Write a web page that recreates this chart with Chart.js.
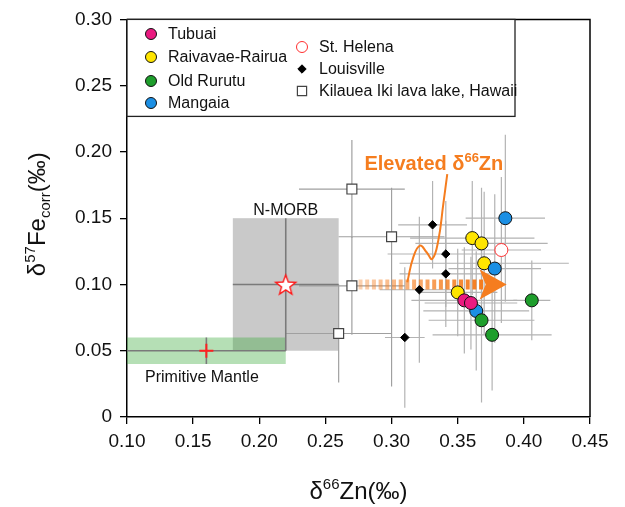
<!DOCTYPE html>
<html>
<head>
<meta charset="utf-8">
<script src="https://cdn.jsdelivr.net/npm/chart.js@4.4.1/dist/chart.umd.min.js"></script>
<style>
  body { margin: 0; background: #fff; }
  #wrap { width: 625px; height: 507px; position: relative; }
</style>
</head>
<body>
<div id="wrap"><canvas id="chart"></canvas></div>
<script>
// ---- data ----
const tubuaiX = [0.355, 0.360];
const tubuaiY = [0.088, 0.086];
const tubuaiXErr = [0.04, 0.035];
const tubuaiYErr = [0.04, 0.035];

const raivavaeX = [0.361, 0.368, 0.370, 0.350];
const raivavaeY = [0.135, 0.131, 0.116, 0.094];
const raivavaeXErr = [0.047, 0.05, 0.064, 0.03];
const raivavaeYErr = [0.043, 0.042, 0.054, 0.033];

const rurutuX = [0.406, 0.368, 0.376];
const rurutuY = [0.088, 0.073, 0.062];
const rurutuXErr = [0.014, 0.04, 0.045];
const rurutuYErr = [0.03, 0.062, 0.042];

const mangaiaX = [0.386, 0.378, 0.364];
const mangaiaY = [0.150, 0.112, 0.080];
const mangaiaXErr = [0.03, 0.035, 0.04];
const mangaiaYErr = [0.063, 0.056, 0.045];

const helenaX = [0.383];
const helenaY = [0.126];
const helenaXErr = [0.03];
const helenaYErr = [0.055];

const louisvilleX = [0.331, 0.341, 0.341, 0.321, 0.310];
const louisvilleY = [0.145, 0.123, 0.108, 0.096, 0.060];
const louisvilleXErr = [0.026, 0.044, 0.035, 0.03, 0.015];
const louisvilleYErr = [0.033, 0.04, 0.04, 0.055, 0.053];

const kilaueaX = [0.270, 0.300, 0.270, 0.260];
const kilaueaY = [0.172, 0.136, 0.099, 0.063];
const kilaueaXErr = [0.04, 0.04, 0.04, 0.04];
const kilaueaYErr = [0.037, [0.113, 0.037], 0.037, 0.037];   // [down, up] where asymmetric

// reference reservoirs
const morbX = [0.22], morbY = [0.10], morbXErr = [0.04], morbYErr = [0.05];
const morbBox = [0.18, 0.26, 0.05, 0.15];      // xmin, xmax, ymin, ymax
const pmX = [0.16], pmY = [0.05], pmXErr = [0.06], pmYErr = [0.01];
const pmBox = [0.10, 0.22, 0.04, 0.06];

// "Elevated d66Zn" arrow and curve
const arrowFrom = [0.275, 0.10];
const arrowTo = [0.387, 0.10];
const curveX = [0.3119, 0.3164, 0.3215, 0.3265, 0.3308, 0.3353, 0.3391, 0.3421];
const curveY = [0.1017, 0.1205, 0.1293, 0.1243, 0.1193, 0.1331, 0.1607, 0.1832];

const xTicks = [0.10, 0.15, 0.20, 0.25, 0.30, 0.35, 0.40, 0.45];
const yTicks = [0, 0.05, 0.10, 0.15, 0.20, 0.25, 0.30];

const FONT = '"Liberation Sans", Arial, Helvetica, sans-serif';
const ORANGE = '#f57d1f';

const pts = (xs, ys) => xs.map((x, i) => ({ x: x, y: ys[i] }));

function makeStar(r) {
  const s = Math.ceil(r * 2 + 4);
  const c = document.createElement('canvas');
  c.width = s; c.height = s;
  const g = c.getContext('2d');
  g.translate(s / 2, s / 2 + r * 0.1);
  g.beginPath();
  for (let i = 0; i < 10; i++) {
    const rr = i % 2 ? r * 0.42 : r;
    const a = -Math.PI / 2 + i * Math.PI / 5;
    g.lineTo(rr * Math.cos(a), rr * Math.sin(a));
  }
  g.closePath();
  g.fillStyle = '#fff';
  g.fill();
  g.strokeStyle = '#ff1a1a';
  g.lineWidth = 1.4;
  g.stroke();
  return c;
}

function circle(bg, border) {
  return { pointStyle: 'circle', pointRadius: 6.5, backgroundColor: bg, borderColor: border || '#111', borderWidth: 1 };
}

// legend marker
function drawMarker(ctx, style, r, x, y) {
  ctx.beginPath();
  if (style === 'circle') {
    ctx.arc(x, y, r, 0, Math.PI * 2);
  } else if (style === 'rect') {
    const s = Math.SQRT1_2 * r;
    ctx.rect(x - s, y - s, 2 * s, 2 * s);
  } else {
    ctx.moveTo(x, y - r); ctx.lineTo(x + r, y); ctx.lineTo(x, y + r); ctx.lineTo(x - r, y);
    ctx.closePath();
  }
  ctx.fill();
  ctx.stroke();
}

// rich text (super/subscripts)
function richWidth(ctx, parts) {
  let w = 0;
  parts.forEach(p => { ctx.font = p.font; w += ctx.measureText(p.t).width; });
  return w;
}
function richDraw(ctx, parts, x, y) {
  parts.forEach(p => {
    ctx.font = p.font;
    ctx.fillText(p.t, x, y + (p.dy || 0));
    x += ctx.measureText(p.t).width;
  });
}

const backdrop = {
  id: 'backdrop',
  beforeDatasetsDraw(chart) {
    const { ctx, chartArea: a } = chart;
    const sx = chart.scales.x, sy = chart.scales.y;
    const X = v => sx.getPixelForValue(v), Y = v => sy.getPixelForValue(v);
    ctx.save();
    ctx.beginPath();
    ctx.rect(a.left, a.top, a.right - a.left, a.bottom - a.top);
    ctx.clip();

    // N-MORB and primitive mantle fields
    ctx.fillStyle = '#c9c9c9';
    ctx.fillRect(X(morbBox[0]), Y(morbBox[3]), X(morbBox[1]) - X(morbBox[0]), Y(morbBox[2]) - Y(morbBox[3]));
    ctx.fillStyle = 'rgba(60,170,60,0.38)';
    ctx.fillRect(X(pmBox[0]), Y(pmBox[3]), X(pmBox[1]) - X(pmBox[0]), Y(pmBox[2]) - Y(pmBox[3]));

    // error bars
    chart.data.datasets.forEach(ds => {
      if (!ds.xErr) return;
      ctx.strokeStyle = ds.errColor || '#b3b3b3';
      ctx.lineWidth = ds.errWidth || 1.2;
      ds.data.forEach((p, i) => {
        const ex = ds.xErr[i];
        const ey = ds.yErr[i];
        const down = Array.isArray(ey) ? ey[0] : ey;
        const up = Array.isArray(ey) ? ey[1] : ey;
        ctx.beginPath();
        ctx.moveTo(X(p.x - ex), Y(p.y));
        ctx.lineTo(X(p.x + ex), Y(p.y));
        ctx.moveTo(X(p.x), Y(p.y - down));
        ctx.lineTo(X(p.x), Y(p.y + up));
        ctx.stroke();
      });
    });

    // dashed arrow
    const x0 = X(arrowFrom[0]), x1 = X(arrowTo[0]), ay = Y(arrowFrom[1]);
    const headLen = 27, headHalf = 15;
    const grad = ctx.createLinearGradient(x0, 0, x1 - headLen, 0);
    grad.addColorStop(0, 'rgba(245,125,31,0.35)');
    grad.addColorStop(1, 'rgba(245,125,31,1)');
    ctx.strokeStyle = grad;
    ctx.lineWidth = 10;
    ctx.setLineDash([4, 2.7]);
    ctx.beginPath();
    ctx.moveTo(x0, ay);
    ctx.lineTo(x1 - headLen + 4, ay);
    ctx.stroke();
    ctx.setLineDash([]);
    ctx.fillStyle = ORANGE;
    ctx.beginPath();
    ctx.moveTo(x1, ay);
    ctx.lineTo(x1 - headLen, ay - headHalf);
    ctx.lineTo(x1 - headLen + 6, ay);
    ctx.lineTo(x1 - headLen, ay + headHalf);
    ctx.closePath();
    ctx.fill();
    ctx.restore();

    // field labels
    ctx.save();
    ctx.fillStyle = '#111';
    ctx.font = '16px ' + FONT;
    ctx.textAlign = 'center';
    ctx.fillText('N-MORB', X((morbBox[0] + morbBox[1]) / 2), Y(morbBox[3]) - 3);
    ctx.textAlign = 'left';
    ctx.fillText('Primitive Mantle', X(pmBox[0]) + 18, Y(pmBox[2]) + 18);

    // annotation
    ctx.fillStyle = ORANGE;
    richDraw(ctx, [
      { t: 'Elevated \u03b4', font: 'bold 20px ' + FONT },
      { t: '66', font: 'bold 13px ' + FONT, dy: -8 },
      { t: 'Zn', font: 'bold 20px ' + FONT }
    ], X(0.2795), Y(0.1865));
    ctx.restore();
  },
  afterDraw(chart) {
    const { ctx, chartArea: a } = chart;
    ctx.save();
    // frame top and right
    ctx.strokeStyle = '#000';
    ctx.lineWidth = 1.5;
    ctx.beginPath();
    ctx.moveTo(a.left, a.top);
    ctx.lineTo(a.right, a.top);
    ctx.lineTo(a.right, a.bottom);
    ctx.stroke();

    // legend box
    ctx.fillStyle = '#fff';
    ctx.fillRect(a.left, a.top, 388, 97);
    ctx.strokeStyle = '#222';
    ctx.lineWidth = 1.3;
    ctx.strokeRect(a.left, a.top, 388, 97);

    const items = [
      { label: 'Tubuai', mx: 151, y: 34, ds: 1 },
      { label: 'Raivavae-Rairua', mx: 151, y: 57, ds: 3 },
      { label: 'Old Rurutu', mx: 151, y: 81, ds: 0 },
      { label: 'Mangaia', mx: 151, y: 103, ds: 2 },
      { label: 'St. Helena', mx: 302, y: 47, ds: 4 },
      { label: 'Louisville', mx: 302, y: 69, ds: 5 },
      { label: 'Kilauea Iki lava lake, Hawaii', mx: 302, y: 91, ds: 6 }
    ];
    ctx.font = '16px ' + FONT;
    ctx.textBaseline = 'middle';
    items.forEach(it => {
      const ds = chart.data.datasets[it.ds];
      const r = ds.pointStyle === 'circle' ? 5.5 : (ds.pointStyle === 'rect' ? 6.5 : 4.2);
      ctx.fillStyle = ds.backgroundColor;
      ctx.strokeStyle = ds.borderColor;
      ctx.lineWidth = ds.borderWidth;
      drawMarker(ctx, ds.pointStyle, r, it.mx, it.y);
      ctx.fillStyle = '#111';
      ctx.fillText(it.label, it.mx + 17, it.y + 1);
    });

    // axis titles
    ctx.fillStyle = '#111';
    ctx.textBaseline = 'alphabetic';
    const xt = [
      { t: '\u03b4', font: '24px ' + FONT },
      { t: '66', font: '15px ' + FONT, dy: -10 },
      { t: 'Zn(\u2030)', font: '24px ' + FONT }
    ];
    const cx = (a.left + a.right) / 2;
    richDraw(ctx, xt, cx - richWidth(ctx, xt) / 2, 499);

    const yt = [
      { t: '\u03b4', font: '24px ' + FONT },
      { t: '57', font: '15px ' + FONT, dy: -10 },
      { t: 'Fe', font: '24px ' + FONT },
      { t: 'corr', font: '15px ' + FONT, dy: 5 },
      { t: '(\u2030)', font: '24px ' + FONT }
    ];
    ctx.translate(45, (a.top + a.bottom) / 2 - 4);
    ctx.rotate(-Math.PI / 2);
    richDraw(ctx, yt, -richWidth(ctx, yt) / 2, 0);
    ctx.restore();
  }
};

const starImg = makeStar(10.5);

new Chart(document.getElementById('chart'), {
  type: 'scatter',
  data: {
    datasets: [
      Object.assign({ label: 'Old Rurutu', data: pts(rurutuX, rurutuY), xErr: rurutuXErr, yErr: rurutuYErr }, circle('#1e9e2c')),
      Object.assign({ label: 'Tubuai', data: pts(tubuaiX, tubuaiY), xErr: tubuaiXErr, yErr: tubuaiYErr }, circle('#ea1a80')),
      Object.assign({ label: 'Mangaia', data: pts(mangaiaX, mangaiaY), xErr: mangaiaXErr, yErr: mangaiaYErr }, circle('#1b8fe4')),
      Object.assign({ label: 'Raivavae-Rairua', data: pts(raivavaeX, raivavaeY), xErr: raivavaeXErr, yErr: raivavaeYErr }, circle('#ffe500')),
      Object.assign({ label: 'St. Helena', data: pts(helenaX, helenaY), xErr: helenaXErr, yErr: helenaYErr }, circle('#ffffff', '#ff3030')),
      { label: 'Louisville', data: pts(louisvilleX, louisvilleY), xErr: louisvilleXErr, yErr: louisvilleYErr,
        pointStyle: 'rectRot', pointRadius: 4.2, backgroundColor: '#000', borderColor: '#000', borderWidth: 1 },
      { label: 'Kilauea Iki lava lake, Hawaii', data: pts(kilaueaX, kilaueaY), xErr: kilaueaXErr, yErr: kilaueaYErr,
        errColor: '#a0a0a0', pointStyle: 'rect', pointRadius: 7, backgroundColor: '#fff', borderColor: '#444', borderWidth: 1.2 },
      { label: 'N-MORB', data: pts(morbX, morbY), xErr: morbXErr, yErr: morbYErr, errColor: '#7a7a7a', errWidth: 1.6,
        pointStyle: starImg, pointRadius: 10 },
      { label: 'Primitive Mantle', data: pts(pmX, pmY), xErr: pmXErr, yErr: pmYErr, errColor: '#7a7a7a', errWidth: 1.6,
        pointStyle: 'cross', pointRadius: 7, borderColor: '#ff2020', borderWidth: 2 },
      { label: 'curve', data: pts(curveX, curveY), showLine: true, tension: 0.45, pointRadius: 0,
        borderColor: ORANGE, borderWidth: 2, fill: false }
    ]
  },
  options: {
    responsive: true,
    maintainAspectRatio: false,
    animation: false,
    layout: { padding: { top: 18, right: 35, left: 0, bottom: 0 } },
    plugins: { legend: { display: false }, tooltip: { enabled: false } },
    scales: {
      x: {
        type: 'linear', min: 0.10, max: 0.45,
        afterFit(s) { s.height = 90; },
        afterBuildTicks(s) { s.ticks = xTicks.map(v => ({ value: v })); },
        ticks: { font: { size: 19, family: FONT }, color: '#111', padding: 6,
                 callback: v => v.toFixed(2) },
        grid: { drawOnChartArea: false, color: '#000', lineWidth: 1.3, tickLength: 7 },
        border: { color: '#000', width: 1.5 }
      },
      y: {
        type: 'linear', min: 0, max: 0.30,
        afterFit(s) { s.width = 127; },
        afterBuildTicks(s) { s.ticks = yTicks.map(v => ({ value: v })); },
        ticks: { font: { size: 19, family: FONT }, color: '#111', padding: 8,
                 callback: v => (v === 0 ? '0' : v.toFixed(2)) },
        grid: { drawOnChartArea: false, color: '#000', lineWidth: 1.3, tickLength: 7 },
        border: { color: '#000', width: 1.5 }
      }
    }
  },
  plugins: [backdrop]
});
</script>
</body>
</html>
